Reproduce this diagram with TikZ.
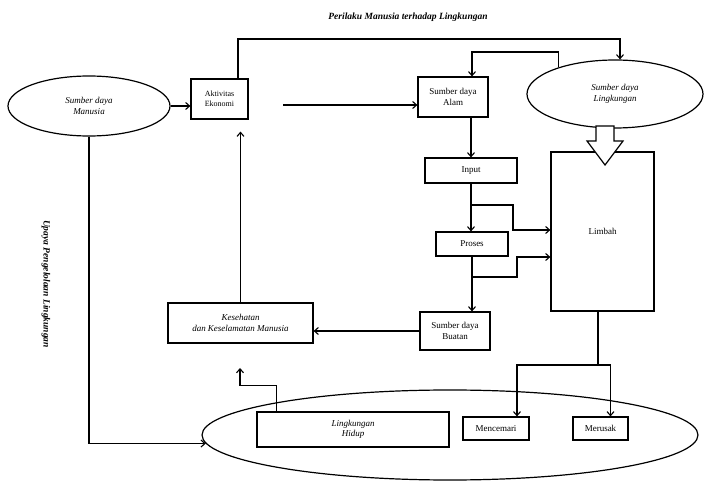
\documentclass[tikz,border=0pt]{standalone}
\usepackage{fontspec}
\setmainfont{Liberation Serif}
\usetikzlibrary{shapes.geometric,arrows.meta}

\begin{document}
\begin{tikzpicture}[x=1pt,y=-1pt,
  box/.style={draw,line width=1.2pt,rectangle,inner sep=1pt,align=center,font=\fontsize{9}{10.5}\selectfont},
  ibox/.style={box,font=\fontsize{9}{10.5}\selectfont\itshape},
  oval/.style={draw,line width=1.2pt,ellipse,inner sep=0pt,align=center,font=\fontsize{9}{10.5}\selectfont\itshape},
  link/.style={line width=1.1pt,-{Straight Barb[length=4pt,width=7pt]}},
  plain/.style={line width=1.1pt}]
\useasboundingbox (0,0) rectangle (705,489);

% titles
\node[font=\fontsize{9.5}{11}\selectfont\bfseries\itshape] (title) at (408,17) {Perilaku Manusia terhadap Lingkungan};
\node[font=\fontsize{9.5}{11}\selectfont\bfseries\itshape,rotate=-90] (upaya) at (46,284) {Upaya Pengelolaan Lingkungan};

% nodes
\node[oval,minimum width=162,minimum height=60] (manusia) at (89,106) {Sumber daya\\Manusia};
\node[box,minimum width=57,minimum height=40,font=\fontsize{8}{9.5}\selectfont] (aktivitas) at (219.5,99) {Aktivitas\\Ekonomi};
\node[box,minimum width=70,minimum height=40] (alam) at (453,97) {Sumber daya\\Alam};
\node[oval,minimum width=176,minimum height=68] (lingk) at (615,94) {Sumber daya\\Lingkungan};
\node[box,minimum width=92,minimum height=25] (input) at (471,170.5) {Input};
\node[box,minimum width=72,minimum height=24] (proses) at (472,244) {Proses};
\node[box,minimum width=103,minimum height=159] (limbah) at (602.5,231.5) {Limbah};
\node[box,minimum width=70,minimum height=38] (buatan) at (455,331) {Sumber daya\\Buatan};
\node[ibox,minimum width=145,minimum height=40] (kesehatan) at (240.5,323) {Kesehatan\\dan Keselamatan Manusia};
\node[oval,minimum width=496,minimum height=90] (hidupEll) at (450,435) {};
\node[ibox,minimum width=192,minimum height=35] (hidup) at (353,429.5) {Lingkungan\\Hidup};
\node[box,minimum width=66,minimum height=23] (mencemari) at (496,428.5) {Mencemari};
\node[box,minimum width=55,minimum height=23] (merusak) at (600.5,428.5) {Merusak};

% hollow arrow from Sumber daya Lingkungan into Limbah
\draw[line width=1.2pt,fill=white] (596,126) -- (596,141) -- (587,141) -- (605,165)
  -- (623,141) -- (614,141) -- (614,126) -- cycle;

% helper points
\coordinate (top1) at (238,39);
\coordinate (top2) at (472,52);
\coordinate (e0) at (283,105);
\coordinate (b1) at (471,205);
\coordinate (b2) at (513,230);
\coordinate (b3) at (472,277);
\coordinate (b4) at (517,257);
\coordinate (h1) at (240,368);
\coordinate (j) at (598,365);

% connectors
\draw[link] (manusia.east) -- (manusia.east -| aktivitas.west);
\draw[link] (aktivitas.north -| top1) -- (top1) -| ([xshift=5pt]lingk.north);
\draw[link] (lingk.155) |- (top2) -- (top2 |- alam.north);
\draw[link] (e0) -- (e0 -| alam.west);
\draw[link] (input.north |- alam.south) -- (input.north);
\draw[link] (input.south) -- (input.south |- proses.north);
\draw[link] (b1) -| (b2) -- (b2 -| limbah.west);
\draw[link] (proses.south) -- (proses.south |- buatan.north);
\draw[link] (b3) -| (b4) -- (b4 -| limbah.west);
\draw[link] (buatan.west) -- (buatan.west -| kesehatan.east);
\draw[link,shorten >=12pt] (kesehatan.north) -- (kesehatan.north |- aktivitas.south);
\draw[link] (manusia.south) |- (hidupEll.182);
\draw[link] ([xshift=20pt]hidup.north west) -- ++(0,-26) -| (h1);
\draw[plain] (limbah.south -| j) -- (j);
\draw[link] (j) -| ([xshift=21pt]mencemari.north);
\draw[link] (j) -| ([xshift=10pt]merusak.north);
\end{tikzpicture}
\end{document}
